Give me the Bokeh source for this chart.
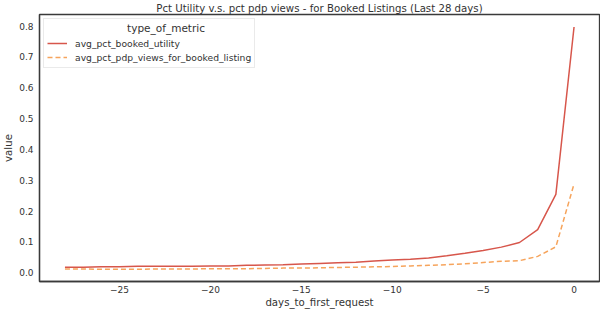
from bokeh.plotting import figure
from bokeh.embed import file_html
from bokeh.resources import INLINE
from bokeh.models import Range1d, Legend, LegendItem, FixedTicker

days = list(range(-28, 1))
booked_utility = [0.020, 0.018, 0.018, 0.018, 0.019, 0.019, 0.021, 0.021, 0.021, 0.021,
                  0.022, 0.022, 0.024, 0.025, 0.026, 0.028, 0.030, 0.032, 0.034, 0.038,
                  0.041, 0.044, 0.048, 0.055, 0.063, 0.072, 0.083, 0.098, 0.140, 0.254, 0.797][2:]
pdp_views = [0.012, 0.012, 0.011, 0.011, 0.011, 0.012, 0.012, 0.012, 0.013, 0.013,
             0.013, 0.014, 0.015, 0.015, 0.016, 0.017, 0.018, 0.019, 0.020, 0.022,
             0.024, 0.026, 0.029, 0.033, 0.037, 0.039, 0.053, 0.084, 0.288]

series_names = ["avg_pct_booked_utility", "avg_pct_pdp_views_for_booked_listing"]
x_ticks = [-25, -20, -15, -10, -5, 0]
y_ticks = [0.0, 0.1, 0.2, 0.3, 0.4, 0.5, 0.6, 0.7, 0.8]
x_title = "days_to_first_request"
y_title = "value"

FONT = "DejaVu Sans"
TXT = "#333333"

p = figure(width=600, height=310, output_backend="svg", toolbar_location=None,
           x_range=Range1d(-29.4, 1.4), y_range=Range1d(-0.0285, 0.8375),
           title="Pct Utility v.s. pct pdp views - for Booked Listings (Last 28 days)",
           min_border_left=0, min_border_right=1, min_border_top=0, min_border_bottom=0)
p.title.align = "center"
p.title.text_font = FONT
p.title.text_font_size = "10.2px"
p.title.text_font_style = "normal"
p.title.text_color = TXT
p.title.text_line_height = 1.0
p.title.standoff = 1
p.title.offset = 0

p.xgrid.visible = False
p.ygrid.visible = False
p.outline_line_color = "#3a3a3a"
p.outline_line_width = 1.3
p.outline_line_alpha = 1.0

for ax in (p.xaxis[0], p.yaxis[0]):
    ax.major_label_text_font = FONT
    ax.major_label_text_font_size = "9px"
    ax.major_label_text_color = TXT
    ax.major_label_text_line_height = 1.0
    ax.axis_label_text_font = FONT
    ax.axis_label_text_font_size = "10.2px"
    ax.axis_label_text_font_style = "normal"
    ax.axis_label_text_color = TXT
    ax.axis_label_text_line_height = 1.0
    ax.axis_line_color = "#3a3a3a"
    ax.axis_line_width = 1.3
    ax.major_tick_line_color = None
    ax.minor_tick_line_color = None
    ax.major_tick_out = 0
    ax.major_tick_in = 0

p.xaxis.ticker = FixedTicker(ticks=x_ticks)
p.yaxis.ticker = FixedTicker(ticks=y_ticks)
p.xaxis.major_label_overrides = {t: ("−" + str(abs(t)) if t < 0 else str(t)) for t in x_ticks}
p.yaxis.major_label_overrides = {t: f"{t:.1f}" for t in y_ticks}
p.xaxis.axis_label = x_title
p.yaxis.axis_label = y_title
p.xaxis.major_label_standoff = 4
p.yaxis.major_label_standoff = 6
p.xaxis.axis_label_standoff = 1
p.yaxis.axis_label_standoff = 2

r1 = p.line(days, booked_utility, line_color="#d7564b", line_width=1.5)
r2 = p.line(days, pdp_views, line_color="#f6a45c", line_width=1.5, line_dash="5 3")

legend = Legend(items=[LegendItem(label=series_names[0], renderers=[r1]),
                       LegendItem(label=series_names[1], renderers=[r2])],
                title="                        type_of_metric",
                location="top_left")
legend.title_text_font = FONT
legend.title_text_font_size = "10.5px"
legend.title_text_font_style = "normal"
legend.title_text_color = TXT
legend.title_standoff = 2
legend.label_text_font = FONT
legend.label_text_font_size = "9.2px"
legend.label_text_color = TXT
legend.label_standoff = 8
legend.border_line_color = "#d5d5d5"
legend.border_line_width = 1
legend.background_fill_alpha = 0.9
legend.glyph_width = 20
legend.glyph_height = 14
legend.label_height = 14
legend.spacing = 0
legend.padding = 3
legend.margin = 4
p.add_layout(legend)

open("out.html", "w").write(file_html(p, INLINE))
